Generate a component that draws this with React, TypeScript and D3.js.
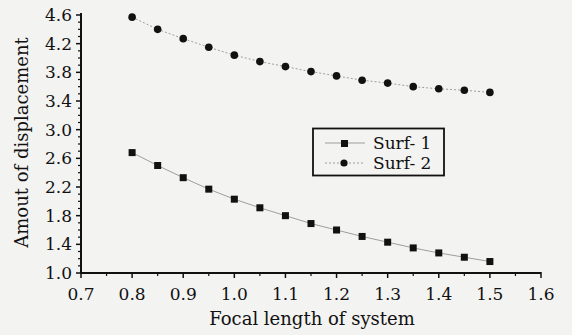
import * as d3 from "d3";

const focal = [0.8, 0.85, 0.9, 0.95, 1.0, 1.05, 1.1, 1.15, 1.2, 1.25, 1.3, 1.35, 1.4, 1.45, 1.5];
const surf1 = [2.68, 2.5, 2.33, 2.17, 2.03, 1.91, 1.8, 1.69, 1.6, 1.51, 1.43, 1.35, 1.28, 1.22, 1.16];
const surf2 = [4.57, 4.4, 4.27, 4.15, 4.04, 3.95, 3.88, 3.81, 3.75, 3.69, 3.65, 3.6, 3.57, 3.55, 3.52];
const xTicks = [0.7, 0.8, 0.9, 1.0, 1.1, 1.2, 1.3, 1.4, 1.5, 1.6];
const yTicks = [1.0, 1.4, 1.8, 2.2, 2.6, 3.0, 3.4, 3.8, 4.2, 4.6];

const W = 572, H = 335;
const font = "'DejaVu Serif', serif";

export default function App() {
  const x = d3.scaleLinear().domain([0.7, 1.6]).range([81, 541]);
  const y = d3.scaleLinear().domain([1.0, 4.6]).range([273, 15]);
  const xMinor = d3.range(0.75, 1.6, 0.1);
  const yMinor = d3.range(1.0, 4.61, 0.1).filter((v) => !yTicks.some((t) => Math.abs(t - v) < 1e-6));
  const line = d3.line<number>().x((_, i) => x(focal[i])).y((v) => y(v));

  return (
    <svg width={W} height={H} style={{ position: "absolute", left: 0, top: 0, background: "#f3f3f1" }}>
      <rect width={W} height={H} fill="#f3f3f1" />
      <path d={line(surf1) ?? ""} fill="none" stroke="#888" strokeWidth={0.8} />
      <path d={line(surf2) ?? ""} fill="none" stroke="#888" strokeWidth={0.8} strokeDasharray="2,2" />
      {surf1.map((v, i) => (
        <rect key={`s${i}`} x={x(focal[i]) - 3.5} y={y(v) - 3.5} width={7} height={7} fill="#111" />
      ))}
      {surf2.map((v, i) => (
        <circle key={`c${i}`} cx={x(focal[i])} cy={y(v)} r={3.8} fill="#111" />
      ))}
      {/* axes */}
      <line x1={81} x2={81} y1={y(4.6) - 2} y2={273} stroke="#111" strokeWidth={2} />
      <line x1={80} x2={541} y1={273} y2={273} stroke="#111" strokeWidth={2} />
      {yTicks.map((t) => (
        <g key={`y${t}`}>
          <line x1={76} x2={82} y1={y(t)} y2={y(t)} stroke="#111" strokeWidth={1.5} />
          <text x={72} y={y(t) + 6} textAnchor="end" fontSize={17} fontFamily={font} fill="#111">{t.toFixed(1)}</text>
        </g>
      ))}
      {yMinor.map((t) => (
        <line key={`ym${t}`} x1={78} x2={82} y1={y(t)} y2={y(t)} stroke="#111" strokeWidth={1.2} />
      ))}
      {xTicks.map((t) => (
        <g key={`x${t}`}>
          <line x1={x(t)} x2={x(t)} y1={272} y2={278} stroke="#111" strokeWidth={1.5} />
          <text x={x(t)} y={300} textAnchor="middle" fontSize={17} fontFamily={font} fill="#111">{t.toFixed(1)}</text>
        </g>
      ))}
      {xMinor.map((t) => (
        <line key={`xm${t}`} x1={x(t)} x2={x(t)} y1={272} y2={276} stroke="#111" strokeWidth={1.2} />
      ))}
      <text x={312} y={325} textAnchor="middle" fontSize={18} fontFamily={font} fill="#111">Focal length of system</text>
      <text transform={`translate(28,${(38 + 247) / 2}) rotate(-90)`} textAnchor="middle" fontSize={18} fontFamily={font} fill="#111">Amout of displacement</text>
      {/* legend */}
      <rect x={313} y={128.5} width={131} height={47} fill="none" stroke="#111" strokeWidth={1.8} />
      <line x1={325} x2={365} y1={143} y2={143} stroke="#888" strokeWidth={0.8} />
      <rect x={341} y={140} width={7} height={7} fill="#111" />
      <text x={373} y={149} fontSize={17} fontFamily={font} fill="#111">Surf- 1</text>
      <line x1={325} x2={365} y1={163} y2={163} stroke="#888" strokeWidth={0.8} strokeDasharray="2,2" />
      <circle cx={344} cy={163} r={3.6} fill="#111" />
      <text x={373} y={169} fontSize={17} fontFamily={font} fill="#111">Surf- 2</text>
    </svg>
  );
}
